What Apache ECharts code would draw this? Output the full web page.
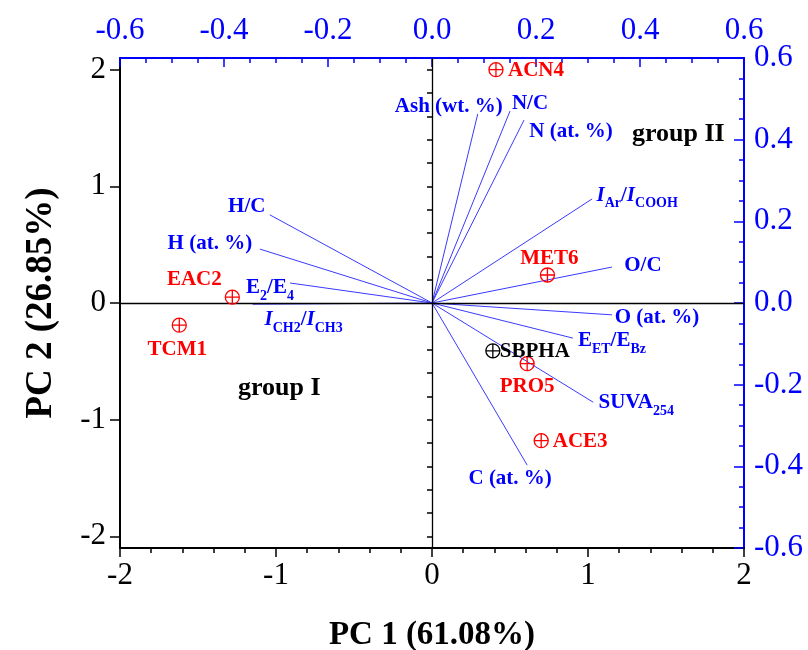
<!DOCTYPE html>
<html><head><meta charset="utf-8">
<script src="https://cdn.jsdelivr.net/npm/echarts@6/dist/echarts.min.js"></script>
<style>html,body{margin:0;padding:0;background:#fff}#c{width:808px;height:650px}</style>
</head><body><div id="c"></div>
<script>
// ---- data ----
const sampleNames = ['ACN4','MET6','EAC2','TCM1','SBPHA','PRO5','ACE3'];
const pc1Scores   = [0.41, 0.74, -1.28, -1.62, 0.39, 0.61, 0.70];
const pc2Scores   = [2.00, 0.24, 0.05, -0.19, -0.41, -0.52, -1.18];

const variableNames = ['Ash (wt. %)','N/C','N (at. %)','I_Ar/I_COOH','O/C','O (at. %)','E_ET/E_Bz','SUVA_254','C (at. %)','H/C','H (at. %)','E_2/E_4','I_CH2/I_CH3'];
const pc1Loadings = [0.088, 0.150, 0.177, 0.308, 0.346, 0.346, 0.271, 0.310, 0.183, -0.312, -0.331, -0.273, -0.345];
const pc2Loadings = [0.463, 0.470, 0.448, 0.255, 0.088, -0.029, -0.086, -0.243, -0.397, 0.216, 0.132, 0.049, -0.003];

const scoreTicks = [-2, -1, 0, 1, 2];
const loadingTicks = [-0.6, -0.4, -0.2, 0.0, 0.2, 0.4, 0.6];
const xTitle = 'PC 1 (61.08%)';
const yTitle = 'PC 2 (26.85%)';
const groupLabels = ['group I', 'group II'];

// ---- layout / style (not data) ----
const FONT = 'Liberation Serif';
const BLUE = '#0000ff';
const sampleColors = {SBPHA: '#000000'};
const sampleLabelOffsets = {ACN4:[40,1], MET6:[2,-16], EAC2:[-38,-18], TCM1:[-2,24], SBPHA:[42,1], PRO5:[0,23], ACE3:[39,1]};
const varLabelOffsets = [[-29,-5],[20,-5],[47,14],[45,-1],[31,1],[45,5],[39,5],[43,3],[-17,16],[-23,-6],[-50,-3],[-20,7],[51,18]];
const richText = {
  'I_Ar/I_COOH': '{i|I}{s|Ar}{b|/}{i|I}{s|COOH}',
  'E_ET/E_Bz': '{b|E}{s|ET}{b|/E}{s|Bz}',
  'SUVA_254': '{b|SUVA}{s|254}',
  'E_2/E_4': '{b|E}{s|2}{b|/E}{s|4}',
  'I_CH2/I_CH3': '{i|I}{s|CH2}{b|/}{i|I}{s|CH3}'
};
const richStyles = {
  b: {fontFamily: FONT, fontWeight: 'bold', fontSize: 21, color: BLUE, lineHeight: 26, verticalAlign: 'top'},
  i: {fontFamily: FONT, fontWeight: 'bold', fontStyle: 'italic', fontSize: 21, color: BLUE, lineHeight: 26, verticalAlign: 'top'},
  s: {fontFamily: FONT, fontWeight: 'bold', fontSize: 14, color: BLUE, lineHeight: 14, verticalAlign: 'bottom'}
};

const minorLeft = [];
for (let k = -10; k <= 10; k++) minorLeft.push(+(k * 0.2).toFixed(1));

const fmt1 = v => (Math.abs(v) < 1e-9 ? '0.0' : v.toFixed(1));

const gridRect = {left: 120, right: 64, top: 58, bottom: 102, containLabel: false, outerBoundsMode: 'none'};

const series = [];

// origin lines
series.push({
  type: 'scatter', xAxisIndex: 0, yAxisIndex: 0, data: [], silent: true,
  markLine: {silent: true, symbol: 'none', label: {show: false},
    lineStyle: {color: '#000', width: 1.3, type: 'solid', opacity: 1},
    data: [{xAxis: 0}, {yAxis: 0}]}
});

// loading vectors
variableNames.forEach((n, k) => {
  series.push({
    type: 'line', xAxisIndex: 1, yAxisIndex: 1, symbol: 'none', silent: true,
    lineStyle: {color: '#3a3aff', width: 1},
    data: [[0, 0], [pc1Loadings[k], pc2Loadings[k]]],
    z: 3
  });
});

// loading labels
series.push({
  type: 'scatter', xAxisIndex: 1, yAxisIndex: 1, symbolSize: 1, silent: true,
  itemStyle: {color: 'rgba(0,0,0,0)', opacity: 1},
  data: variableNames.map((n, k) => ({
    value: [pc1Loadings[k], pc2Loadings[k]],
    label: {show: true, position: 'inside', offset: varLabelOffsets[k],
      formatter: richText[n] || ('{b|' + n + '}'), rich: richStyles}
  })),
  z: 5
});

// sample scores
const circlePlus = 'path://M0,10 A10,10 0 1,1 20,10 A10,10 0 1,1 0,10 Z M10,0 L10,20 M0,10 L20,10';
series.push({
  type: 'scatter', xAxisIndex: 0, yAxisIndex: 0, symbol: circlePlus, symbolSize: 14, symbolKeepAspect: true,
  data: sampleNames.map((n, k) => {
    const c = sampleColors[n] || '#ff0000';
    return {
      value: [pc1Scores[k], pc2Scores[k]], name: n,
      itemStyle: {color: 'rgba(0,0,0,0)', borderColor: c, borderWidth: 1.3, opacity: 1},
      label: {show: true, position: 'inside', offset: sampleLabelOffsets[n], formatter: n,
        color: c, fontFamily: FONT, fontWeight: 'bold', fontSize: 21}
    };
  }),
  z: 6
});

const option = {
  backgroundColor: '#fff',
  animation: false,
  grid: [Object.assign({}, gridRect), Object.assign({}, gridRect)],
  xAxis: [
    {type: 'value', gridIndex: 0, position: 'bottom', min: -2, max: 2, interval: 1,
     axisLine: {show: true, onZero: false, lineStyle: {color: '#000', width: 2}},
     axisTick: {show: true, inside: false, length: 9, lineStyle: {color: '#000', width: 1.5}},
     minorTick: {show: true, splitNumber: 5, length: 5, lineStyle: {color: '#000', width: 1.5}},
     axisLabel: {color: '#000', fontFamily: FONT, fontSize: 31, margin: 12,
       customValues: scoreTicks, formatter: v => String(Math.round(v))},
     splitLine: {show: false}, minorSplitLine: {show: false},
     name: xTitle, nameLocation: 'middle', nameGap: 71,
     nameTextStyle: {color: '#000', fontFamily: FONT, fontWeight: 'bold', fontSize: 33}},
    {type: 'value', gridIndex: 0, position: 'top', min: -0.6, max: 0.6, interval: 0.2,
     axisLine: {show: true, onZero: false, lineStyle: {color: BLUE, width: 2}},
     axisTick: {show: true, inside: true, length: 9, lineStyle: {color: BLUE, width: 1.5}},
     minorTick: {show: true, splitNumber: 4, length: 5, lineStyle: {color: BLUE, width: 1.5}},
     axisLabel: {color: BLUE, fontFamily: FONT, fontSize: 31, margin: 12,
       customValues: loadingTicks, formatter: fmt1},
     splitLine: {show: false}},
    {type: 'value', gridIndex: 1, min: -2, max: 2, show: false}
  ],
  yAxis: [
    {type: 'value', gridIndex: 0, position: 'left', min: -2.1, max: 2.1,
     axisLine: {show: true, onZero: false, lineStyle: {color: '#000', width: 2}},
     axisTick: {show: true, inside: false, length: 10, customValues: scoreTicks, lineStyle: {color: '#000', width: 1.5}},
     axisLabel: {color: '#000', fontFamily: FONT, fontSize: 31, margin: 14,
       customValues: scoreTicks, formatter: v => String(Math.round(v))},
     splitLine: {show: false},
     name: yTitle, nameLocation: 'middle', nameGap: 60, nameRotate: 90,
     nameTextStyle: {color: '#000', fontFamily: FONT, fontWeight: 'bold', fontSize: 37}},
    {type: 'value', gridIndex: 0, position: 'right', min: -0.6, max: 0.6, interval: 0.2,
     axisLine: {show: true, onZero: false, lineStyle: {color: BLUE, width: 2}},
     axisTick: {show: true, inside: true, length: 10, lineStyle: {color: BLUE, width: 1.5}},
     minorTick: {show: true, splitNumber: 4, length: 5, lineStyle: {color: BLUE, width: 1.5}},
     axisLabel: {color: BLUE, fontFamily: FONT, fontSize: 31, margin: 10,
       customValues: loadingTicks, formatter: fmt1},
     splitLine: {show: false}},
    {type: 'value', gridIndex: 1, position: 'left', min: -2.1, max: 2.1,
     axisLine: {show: false}, axisLabel: {show: false}, splitLine: {show: false},
     axisTick: {show: true, inside: false, length: 5, customValues: minorLeft, lineStyle: {color: '#000', width: 1.5}}}
  ],
  graphic: [
    {type: 'text', left: 238, top: 375, style: {text: groupLabels[0], fill: '#000', font: 'bold 26px "Liberation Serif"'}},
    {type: 'text', left: 632, top: 121, style: {text: groupLabels[1], fill: '#000', font: 'bold 26px "Liberation Serif"'}}
  ],
  series: series
};

const chart = echarts.init(document.getElementById('c'), null, {renderer: 'canvas'});
chart.setOption(option);
</script>
</body></html>
